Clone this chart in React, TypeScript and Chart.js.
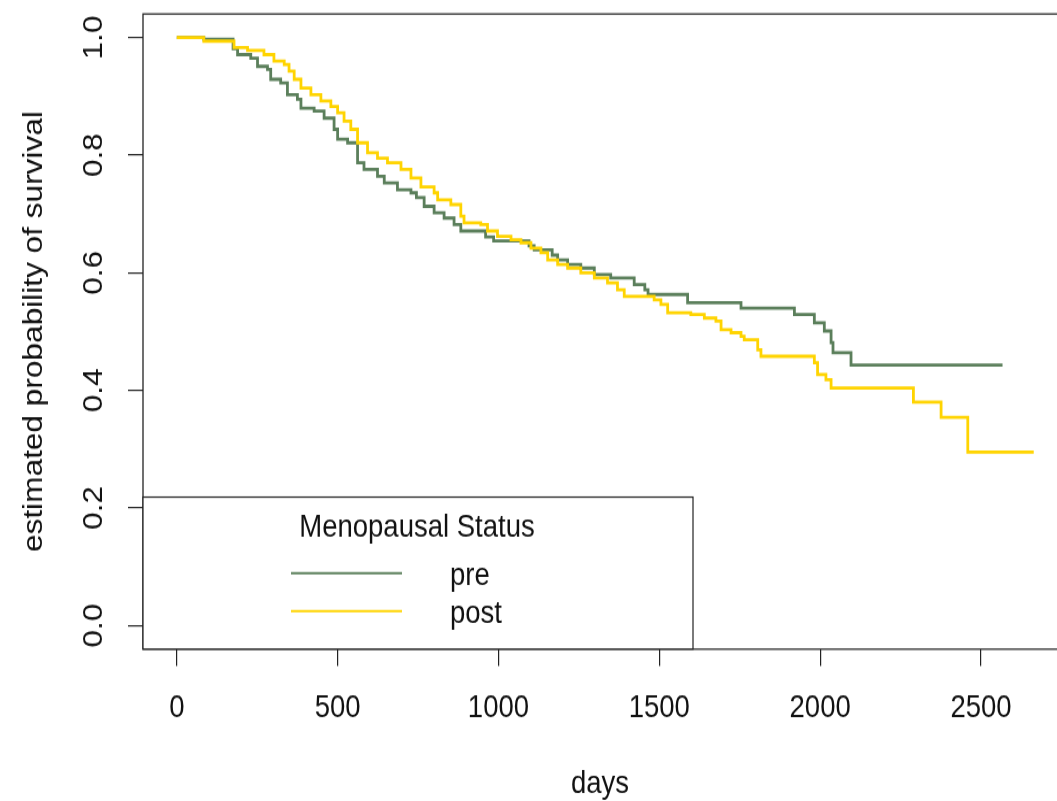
import React, { useEffect, useRef } from 'react';
import { Chart, registerables } from 'chart.js';

Chart.register(...registerables);

// The reference picture is vertically stretched relative to its text metrics.
const W = 1057;
const H = 697;
const S = 801 / H;

const FONT = "'Liberation Sans', Arial, Helvetica, sans-serif";
const FS = 27.5;

const xTicks = [0, 500, 1000, 1500, 2000, 2500];
const yTicks = [0, 0.2, 0.4, 0.6, 0.8, 1.0];

const xTitle = 'days';
const yTitle = 'estimated probability of survival';
const legendTitle = 'Menopausal Status';
const seriesNames = ['pre', 'post'];
const seriesColors = ['#5B7F5B', '#FFD400'];

// [day, estimated survival] — Kaplan-Meier steps
const preCurve: [number, number][] = [
  [0, 1.0], [84, 0.997], [175, 0.981], [189, 0.971], [230, 0.965], [251, 0.951],
  [282, 0.946], [292, 0.929], [323, 0.923], [344, 0.903], [375, 0.895], [386, 0.88],
  [427, 0.875], [458, 0.863], [489, 0.844], [500, 0.827], [531, 0.821], [562, 0.787],
  [582, 0.776], [624, 0.764], [645, 0.753], [686, 0.741], [728, 0.736], [745, 0.728],
  [769, 0.713], [800, 0.702], [831, 0.693], [862, 0.682], [883, 0.671], [960, 0.661],
  [985, 0.654], [1095, 0.646], [1111, 0.639], [1167, 0.63], [1184, 0.622], [1215, 0.614],
  [1256, 0.608], [1298, 0.597], [1349, 0.591], [1422, 0.58], [1455, 0.571], [1465, 0.563],
  [1588, 0.549], [1754, 0.54], [1920, 0.529], [1982, 0.515], [2013, 0.501], [2034, 0.481],
  [2040, 0.464], [2096, 0.443], [2567, 0.443],
];

const postCurve: [number, number][] = [
  [0, 1.0], [84, 0.994], [178, 0.983], [220, 0.978], [271, 0.971], [302, 0.96],
  [334, 0.954], [349, 0.943], [365, 0.929], [386, 0.914], [417, 0.903], [448, 0.892],
  [479, 0.883], [500, 0.872], [520, 0.858], [541, 0.844], [562, 0.821], [593, 0.804],
  [624, 0.795], [655, 0.787], [697, 0.776], [728, 0.761], [759, 0.746], [800, 0.736],
  [811, 0.724], [852, 0.716], [883, 0.696], [893, 0.685], [945, 0.682], [966, 0.671],
  [997, 0.662], [1039, 0.656], [1070, 0.651], [1101, 0.642], [1132, 0.634], [1153, 0.622],
  [1184, 0.614], [1215, 0.608], [1256, 0.6], [1298, 0.591], [1339, 0.583], [1370, 0.571],
  [1391, 0.56], [1484, 0.554], [1505, 0.546], [1526, 0.532], [1598, 0.529], [1640, 0.523],
  [1676, 0.518], [1692, 0.503], [1723, 0.498], [1754, 0.492], [1764, 0.486], [1806, 0.469],
  [1816, 0.458], [1982, 0.447], [1992, 0.427], [2018, 0.418], [2034, 0.404], [2290, 0.38],
  [2376, 0.354], [2459, 0.295], [2664, 0.295],
];

const boxPlugin = {
  id: 'rBoxLegend',
  afterDraw(chart: any) {
    const { ctx, chartArea: a } = chart;
    ctx.save();
    // plot frame (right edge falls outside the picture)
    ctx.strokeStyle = '#222';
    ctx.lineWidth = 1.3;
    ctx.beginPath();
    ctx.moveTo(chart.width + 10, a.top);
    ctx.lineTo(a.left, a.top);
    ctx.lineTo(a.left, a.bottom);
    ctx.lineTo(chart.width + 10, a.bottom);
    ctx.stroke();

    // legend box
    const lt = a.bottom - 152 / S;
    const ll = a.left;
    const lr = 693;
    ctx.fillStyle = '#ffffff';
    ctx.fillRect(ll, lt, lr - ll, a.bottom - lt);
    ctx.strokeStyle = '#222';
    ctx.lineWidth = 1.2;
    ctx.strokeRect(ll, lt, lr - ll, a.bottom - lt);

    ctx.fillStyle = '#111';
    ctx.font = `${FS}px ${FONT}`;
    ctx.textBaseline = 'middle';
    ctx.textAlign = 'center';
    ctx.fillText(legendTitle, 417, lt + 31 / S);

    const rows = [76, 114];
    seriesNames.forEach((name, i) => {
      const y = lt + rows[i] / S;
      ctx.strokeStyle = seriesColors[i];
      ctx.lineWidth = 2;
      ctx.beginPath();
      ctx.moveTo(291, y);
      ctx.lineTo(402, y);
      ctx.stroke();
      ctx.textAlign = 'left';
      ctx.fillStyle = '#111';
      ctx.fillText(name, 450, y + 3 / S);
    });
    ctx.restore();
  },
};

export default function App() {
  const ref = useRef<HTMLCanvasElement | null>(null);

  useEffect(() => {
    if (!ref.current) return;
    const chart = new Chart(ref.current, {
      type: 'line',
      data: {
        datasets: [
          {
            label: seriesNames[0],
            data: preCurve.map(([x, y]) => ({ x, y })),
            borderColor: seriesColors[0],
            borderWidth: 2.8,
            stepped: true,
            pointRadius: 0,
            fill: false,
            order: 1,
          },
          {
            label: seriesNames[1],
            data: postCurve.map(([x, y]) => ({ x, y })),
            borderColor: seriesColors[1],
            borderWidth: 2.8,
            stepped: true,
            pointRadius: 0,
            fill: false,
            order: 0,
          },
        ],
      },
      options: {
        animation: false,
        responsive: false,
        devicePixelRatio: 1,
        layout: { padding: { top: 12.2, right: 0, bottom: 0, left: 0 } },
        plugins: {
          legend: { display: false },
          tooltip: { enabled: false },
        },
        scales: {
          x: {
            type: 'linear',
            min: -105,
            max: -105 + 914 / 0.32168,
            afterBuildTicks: (s: any) => {
              s.ticks = xTicks.map((v) => ({ value: v }));
            },
            afterFit: (s: any) => {
              s.height = H - 564.8;
              s.paddingLeft = 0;
              s.paddingRight = 0;
            },
            ticks: {
              autoSkip: false,
              maxRotation: 0,
              minRotation: 0,
              padding: 20,
              color: '#111',
              font: { family: FONT, size: FS },
              callback: (v: any) => String(v),
            },
            grid: {
              drawOnChartArea: false,
              drawTicks: true,
              tickLength: 17 / S,
              color: '#222',
              lineWidth: 1.2,
            },
            border: { display: false },
            title: {
              display: true,
              text: xTitle,
              color: '#111',
              font: { family: FONT, size: FS },
              padding: { top: 0, bottom: -2 },
            },
          },
          y: {
            type: 'linear',
            min: -0.04,
            max: 1.04,
            afterBuildTicks: (s: any) => {
              s.ticks = yTicks.map((v) => ({ value: v }));
            },
            afterFit: (s: any) => {
              s.width = 143;
              s.paddingTop = 0;
              s.paddingBottom = 0;
            },
            ticks: {
              autoSkip: false,
              minRotation: 90,
              maxRotation: 90,
              crossAlign: 'center',
              padding: 14,
              color: '#111',
              font: { family: FONT, size: FS },
              callback: (v: any) => Number(v).toFixed(1),
            },
            grid: {
              drawOnChartArea: false,
              drawTicks: true,
              tickLength: 15,
              color: '#222',
              lineWidth: 1.2,
            },
            border: { display: false },
            title: {
              display: true,
              text: yTitle,
              color: '#111',
              font: { family: FONT, size: FS },
              padding: { top: 18, bottom: 0 },
            },
          },
        },
      },
      plugins: [boxPlugin],
    } as any);
    return () => chart.destroy();
  }, []);

  return (
    <div style={{ position: 'absolute', left: 0, top: 0, width: W, height: 801, overflow: 'hidden', background: '#fff' }}>
      <canvas
        ref={ref}
        width={W}
        height={H}
        style={{ width: `${W}px`, height: '801px', display: 'block' }}
      />
    </div>
  );
}
